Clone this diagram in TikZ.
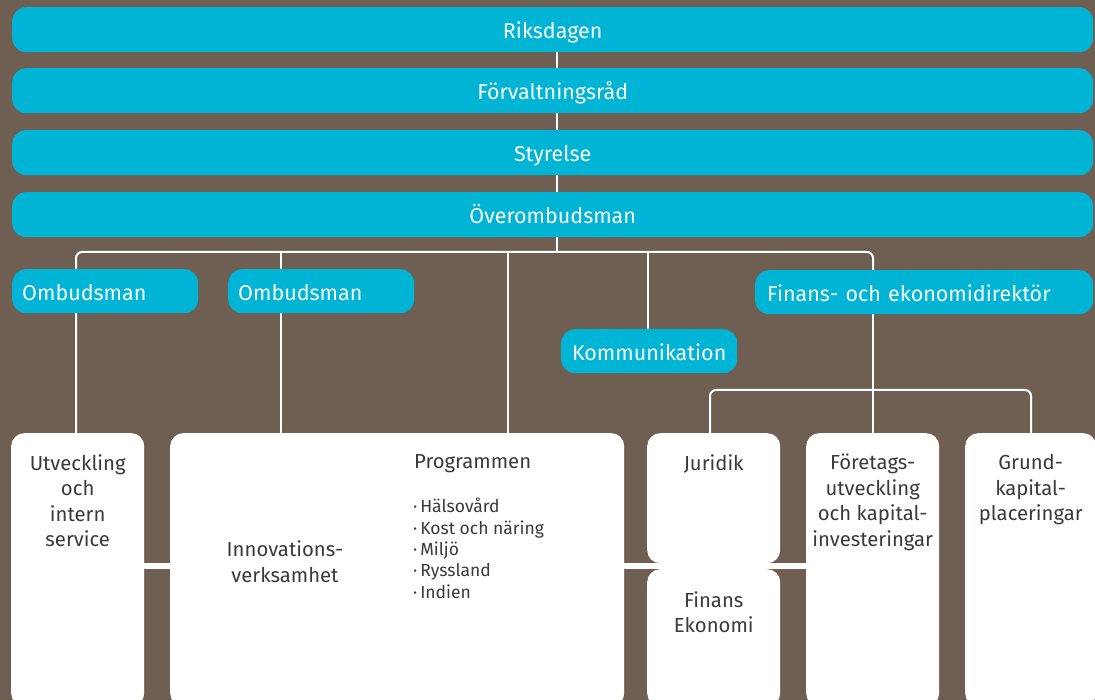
\documentclass[tikz,border=0pt]{standalone}
\usepackage{fontspec}
\setmainfont{Fira Sans}
\definecolor{bgbrown}{HTML}{6F5F53}
\definecolor{barcyan}{HTML}{00B4D6}
\definecolor{txtdark}{HTML}{3A3A3A}
\tikzset{
  bar/.style={fill=barcyan, rounded corners=14pt, inner sep=0pt, text=white, font=\fontsize{21.5}{24}\selectfont, text height=18pt, text depth=0pt},
  wbox/.style={fill=white, rounded corners=13pt, inner sep=0pt},
  btxt/.style={text=txtdark, align=center, inner sep=0pt, font=\fontsize{20.3}{25.6}\selectfont},
  conn/.style={draw=white, line width=2pt},
  band/.style={draw=white, line width=6pt},
}
\begin{document}
\begin{tikzpicture}[x=1pt,y=-1pt]
\fill[bgbrown] (0,0) rectangle (1095,700);
\useasboundingbox (0,0) rectangle (1095,700);
\clip (0,0) rectangle (1095,700);

% coordinates for connectors
\coordinate (hub) at (557,252);
\coordinate (t1) at (76,252);
\coordinate (t2) at (281,252);
\coordinate (t3) at (508,252);
\coordinate (t4) at (648,252);
\coordinate (t5) at (873,252);
\coordinate (u) at (873,390);
\coordinate (u1) at (710,390);
\coordinate (u3) at (1031,390);
\coordinate (bandY) at (0,566);

% bottom boxes
\node[wbox, minimum width=133pt, minimum height=273pt, anchor=north west] (utv) at (11,433) {};
\node[wbox, minimum width=454pt, minimum height=273pt, anchor=north west] (inno) at (170,433) {};
\node[wbox, minimum width=133pt, minimum height=130pt, anchor=north west] (jur) at (647,433) {};
\node[wbox, minimum width=133pt, minimum height=137pt, anchor=north west] (finek) at (647,569) {};
\node[wbox, minimum width=133pt, minimum height=273pt, anchor=north west] (foer) at (806,433) {};
\node[wbox, minimum width=131pt, minimum height=273pt, anchor=north west] (grund) at (965,433) {};

% top bars
\node[bar, minimum width=1081pt, minimum height=45pt, anchor=north west] (riks) at (12,7) {Riksdagen};
\node[bar, minimum width=1081pt, minimum height=45pt, anchor=north west] (forv) at (12,68) {Förvaltningsråd};
\node[bar, minimum width=1081pt, minimum height=45pt, anchor=north west] (styr) at (12,130) {Styrelse};
\node[bar, minimum width=1081pt, minimum height=45pt, anchor=north west] (over) at (12,192) {Överombudsman};

% connectors
\draw[conn] (riks.south -| hub) -- (forv.north -| hub);
\draw[conn] (forv.south -| hub) -- (styr.north -| hub);
\draw[conn] (styr.south -| hub) -- (over.north -| hub);
\draw[conn] (over.south -| hub) -- (hub);
\draw[conn, rounded corners=6pt] (utv.north -| t1) -- (t1) -- (t5) -- ([yshift=-20pt]t5);
\draw[conn] (t2) -- (inno.north -| t2);
\draw[conn] (t3) -- (inno.north -| t3);
\draw[conn] (t4) -- ([yshift=-78pt]t4);
\draw[conn] ([yshift=-62pt]t5) -- (foer.north -| u);
\draw[conn, rounded corners=6pt] (jur.north -| u1) -- (u1) -- (u3) -- (grund.north -| u3);
\draw[band] (utv.east |- bandY) -- (inno.west |- bandY);
\draw[band] (inno.east |- bandY) -- (foer.west |- bandY);

% middle cyan boxes
\node[bar, minimum width=186pt, minimum height=44pt, text width=166pt, align=left, anchor=north west] (omb1) at (12,269) {Ombudsman};
\node[bar, minimum width=186pt, minimum height=44pt, text width=166pt, align=left, anchor=north west] (omb2) at (228,269) {Ombudsman};
\node[bar, minimum width=176pt, minimum height=44pt, anchor=north west] (komm) at (561,329) {Kommunikation};
\node[bar, minimum width=338pt, minimum height=44pt, text width=314pt, align=left, anchor=north west] (fin) at (755,270) {Finans- och ekonomidirektör};

% texts in white boxes
\node[btxt, anchor=north] (utvt) at ([yshift=-21pt]utv.north) {Utveckling\\och\\intern\\service};
\node[btxt, anchor=center] (innot) at (285,562) {Innovations-\\verksamhet};
\node[btxt, anchor=west] (prog) at (414,464) {Programmen};
\node[text=txtdark, align=left, inner sep=0pt, anchor=north west, font=\fontsize{17.5}{21.3}\selectfont] (plist) at (413,498) {·\,Hälsovård\\·\,Kost och näring\\·\,Miljö\\·\,Ryssland\\·\,Indien};
\node[btxt, anchor=north] (jurt) at ([yshift=-21pt]jur.north) {Juridik};
\node[btxt, anchor=north] (finekt) at ([yshift=-22pt]finek.north) {Finans\\Ekonomi};
\node[btxt, anchor=north] (foert) at ([yshift=-21pt]foer.north) {Företags-\\utveckling\\och kapital-\\investeringar};
\node[btxt, anchor=north] (grundt) at ([yshift=-21pt]grund.north) {Grund-\\kapital-\\placeringar};
\end{tikzpicture}
\end{document}
